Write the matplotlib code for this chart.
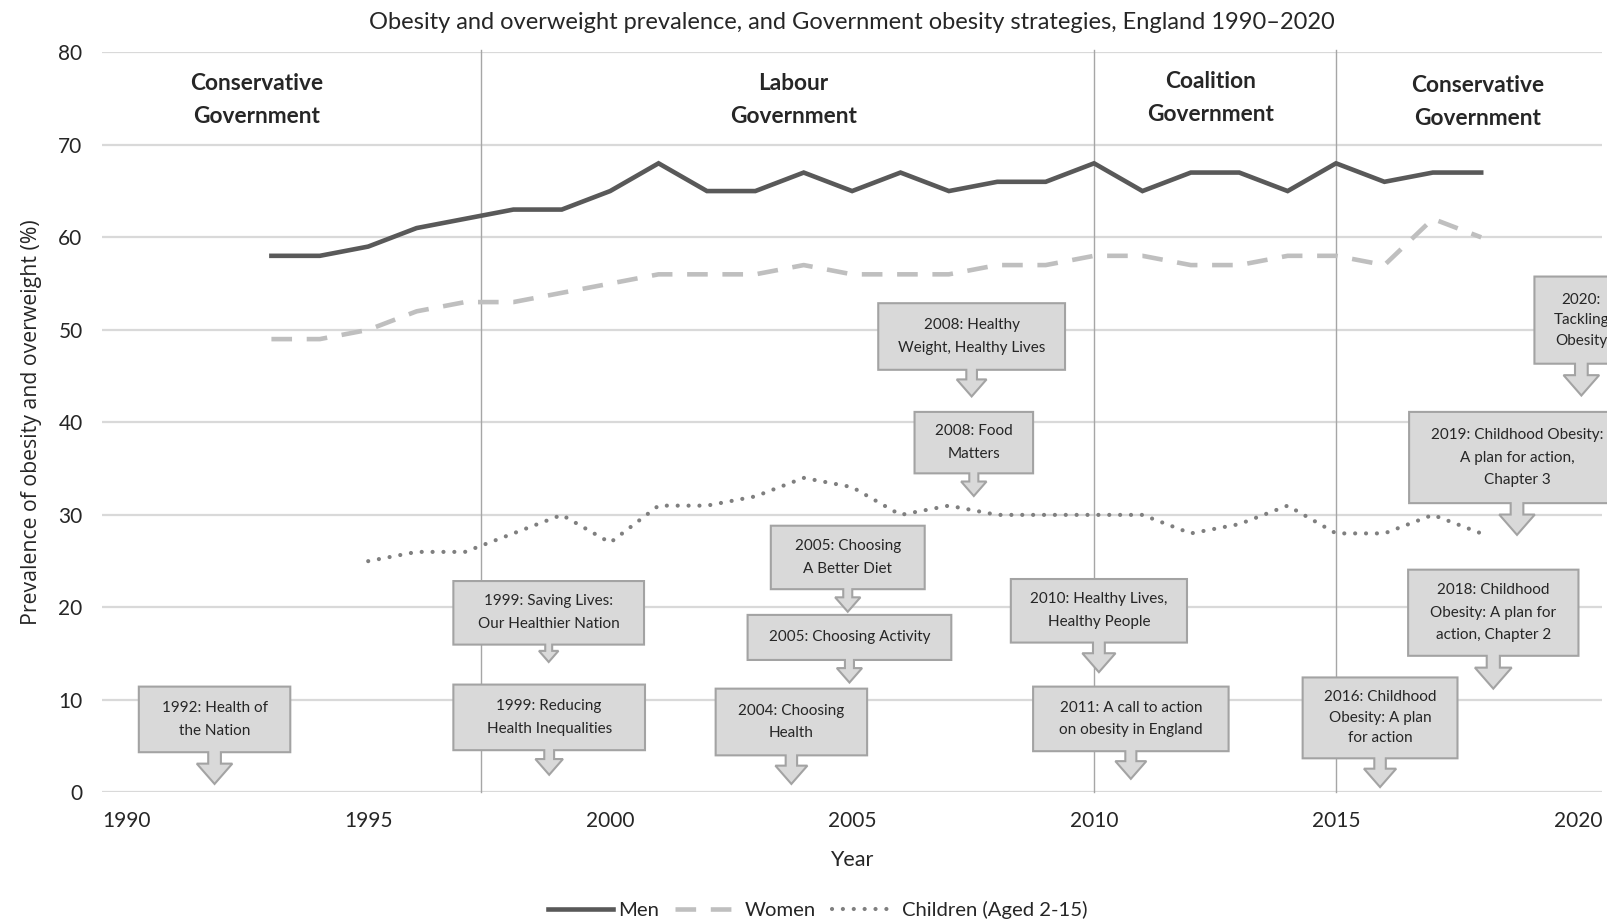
import matplotlib.pyplot as plt
from matplotlib.patches import Polygon
from matplotlib.lines import Line2D

# ---- data ----
men_years = list(range(1993, 2019))
men = [58, 58, 59, 61, 62, 63, 63, 65, 68, 65, 65, 67, 65,
       67, 65, 66, 66, 68, 65, 67, 67, 65, 68, 66, 67, 67]
women = [49, 49, 50, 52, 53, 53, 54, 55, 56, 56, 56, 57, 56,
         56, 56, 57, 57, 58, 58, 57, 57, 58, 58, 57, 62, 60]
child_years = list(range(1995, 2019))
children = [25, 26, 26, 28, 30, 27, 31, 31, 32, 34, 33, 30,
            31, 30, 30, 30, 30, 28, 29, 31, 28, 28, 30, 28]

gov_names = ["Conservative\nGovernment", "Labour\nGovernment",
             "Coalition\nGovernment", "Conservative\nGovernment"]
gov_changes = [1997.33, 2010, 2015]

strategies = [
    "1992: Health of\nthe Nation",
    "1999: Saving Lives:\nOur Healthier Nation",
    "1999: Reducing\nHealth Inequalities",
    "2004: Choosing\nHealth",
    "2005: Choosing\nA Better Diet",
    "2005: Choosing Activity",
    "2008: Healthy\nWeight, Healthy Lives",
    "2008: Food\nMatters",
    "2010: Healthy Lives,\nHealthy People",
    "2011: A call to action\non obesity in England",
    "2016: Childhood\nObesity: A plan\nfor action",
    "2018: Childhood\nObesity: A plan for\naction, Chapter 2",
    "2019: Childhood Obesity:\nA plan for action,\nChapter 3",
    "2020:\nTackling\nObesity",
]

# ---- layout of the callout boxes: (left, right, bottom, top, arrow tip, line spacing) ----
box_layout = [
    (1990.26, 1993.39, 4.35, 11.44, 0.92, 1.8),
    (1996.76, 2000.70, 15.98, 22.85, 14.1, 1.8),
    (1996.76, 2000.72, 4.57, 11.66, 1.91, 1.8),
    (2002.18, 2005.31, 4.01, 11.22, 0.92, 1.8),
    (2003.32, 2006.50, 21.97, 28.83, 19.53, 1.8),
    (2002.84, 2007.05, 14.32, 19.19, 11.88, 1.8),
    (2005.54, 2009.40, 45.68, 52.88, 42.8, 1.8),
    (2006.29, 2008.74, 34.49, 41.13, 32.04, 1.8),
    (2008.28, 2011.92, 16.2, 23.07, 13.0, 1.8),
    (2008.74, 2012.78, 4.46, 11.44, 1.47, 1.8),
    (2014.31, 2017.51, 3.69, 12.43, 0.58, 1.6),
    (2016.49, 2020.01, 14.77, 24.08, 11.22, 1.75),
    (2016.51, 2020.97, 31.27, 41.13, 27.84, 1.75),
    (2019.10, 2021.04, 46.34, 55.76, 42.9, 1.6),
]
gov_label_pos = [(1992.69, 74.8), (2003.79, 74.8), (2012.41, 75.1), (2017.93, 74.6)]

plt.rcParams['font.family'] = ['Lato', 'DejaVu Sans']
text_col = '#262626'

fig = plt.figure(figsize=(16.07, 9.22), dpi=100)
ax = fig.add_axes([0.0635, 0.1405, 0.9335, 0.8028])
ax.set_xlim(1989.5, 2020.5)
ax.set_ylim(0, 80)

for s in ax.spines.values():
    s.set_visible(False)
ax.set_yticks(range(0, 81, 10))
ax.set_xticks(range(1990, 2021, 5))
ax.tick_params(length=0, labelsize=15, colors=text_col)
ax.tick_params(axis='y', pad=14)
ax.tick_params(axis='x', pad=13)
ax.grid(axis='y', color='#d9d9d9', lw=1.6, zorder=0)
ax.set_axisbelow(True)

for x in gov_changes:
    ax.plot([x, x], [0, 80.3], color='#a6a6a6', lw=1.0, zorder=1, clip_on=False)

ax.plot(men_years, men, color='#595959', lw=3.3, solid_joinstyle='miter', zorder=3)
ax.plot(men_years, women, color='#bfbfbf', lw=3.3, linestyle=(0, (4.5, 3.2)), zorder=3)
ax.plot(child_years, children, color='#7f7f7f', lw=3.0,
        linestyle=(0, (0.01, 2.6)), dash_capstyle='round', zorder=3)

for name, (gx, gy) in zip(gov_names, gov_label_pos):
    ax.text(gx, gy, name, ha='center', va='center', fontsize=16.3,
            fontweight='bold', color=text_col, linespacing=1.7, zorder=4)

# pixel scales for building the arrow callouts
p0 = ax.transData.transform((2000, 0))
p1 = ax.transData.transform((2001, 1))
sx, sy = p1[0] - p0[0], p1[1] - p0[1]

for label, (x0, x1, yb, yt, tip, lsp) in zip(strategies, box_layout):
    cx = (x0 + x1) / 2
    total = (yb - tip) * sy
    neck = tip + 0.64 * total / sy
    head = 0.56 * total / sx
    stem = 0.2 * total / sx
    pts = [(x0, yb), (cx - stem, yb), (cx - stem, neck), (cx - head, neck),
           (cx, tip), (cx + head, neck), (cx + stem, neck), (cx + stem, yb),
           (x1, yb), (x1, yt), (x0, yt)]
    ax.add_patch(Polygon(pts, closed=True, facecolor='#d9d9d9', edgecolor='#a3a3a3',
                         lw=1.5, zorder=5, clip_on=False))
    ax.text(cx, (yb + yt) / 2, label, ha='center', va='center', fontsize=11,
            color=text_col, linespacing=lsp, zorder=6, clip_on=False)

ax.set_title("Obesity and overweight prevalence, and Government obesity strategies, England 1990\u20132020",
             fontsize=17, color=text_col, pad=17)
ax.set_xlabel("Year", fontsize=15.5, color=text_col, labelpad=14)
ax.set_ylabel("Prevalence of obesity and overweight (%)", fontsize=15.3,
              color=text_col, family='Open Sans', labelpad=12)

handles = [
    Line2D([], [], color='#595959', lw=3.3),
    Line2D([], [], color='#bfbfbf', lw=3.3, linestyle=(0, (4.5, 3.2))),
    Line2D([], [], color='#7f7f7f', lw=3.0, linestyle=(0, (0.01, 2.6)), dash_capstyle='round'),
]
fig.legend(handles, ["Men", "Women", "Children (Aged 2-15)"], loc='center',
           bbox_to_anchor=(0.509, 1 - 910 / 922), ncol=3, frameon=False,
           fontsize=14.6, handlelength=3.2, handletextpad=0.25, columnspacing=0.8,
           labelcolor=text_col)

fig.savefig('out.png', dpi=100)
